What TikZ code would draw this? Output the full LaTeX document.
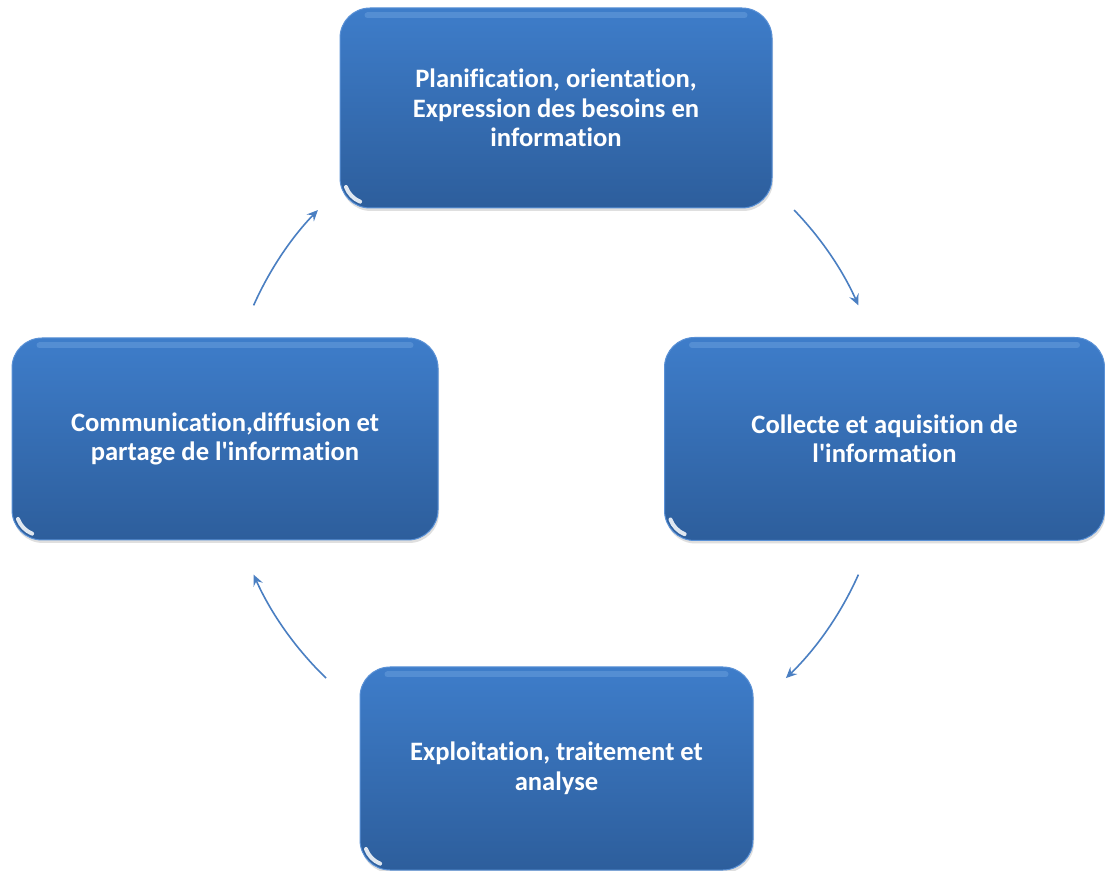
\documentclass[tikz,border=0pt]{standalone}
\usepackage{fontspec}
\setmainfont{Carlito}[Ligatures={NoCommon}]
\usetikzlibrary{arrows.meta,shadows,calc}
\definecolor{boxtop}{HTML}{3E7DCA}
\definecolor{boxbot}{HTML}{2D5E9C}
\definecolor{boxedge}{HTML}{5A91D6}
\definecolor{boxhigh}{HTML}{7FB0E8}
\definecolor{arrowblue}{HTML}{4A7FC2}
\tikzset{
  stagebox/.style={rectangle, rounded corners=30pt, top color=boxtop, bottom color=boxbot,
    draw=boxedge, line width=1pt, text=white, align=center,
    font=\fontsize{26.6}{29.5}\selectfont\bfseries,
    drop shadow={opacity=0.25, shadow xshift=1pt, shadow yshift=-3pt}},
  cyclearrow/.style={draw=arrowblue, line width=1.6pt,
    -{Stealth[length=11pt,width=10pt,inset=4pt]}},
  glint/.style={draw=white, line width=4pt, line cap=round, opacity=0.85},
  highlight/.style={draw=boxhigh, line width=6pt, line cap=round, opacity=0.35}
}
% gloss on a stage box: light band under the top edge and a glint in the lower left corner
\newcommand{\gloss}[1]{%
  \draw[highlight] ($(#1.north west)+(28,-8)$) -- ($(#1.north east)+(-28,-8)$);
  \draw[glint] ($(#1.south west)+(30,30)+(200:25)$) arc[start angle=200,end angle=248,radius=25];
}
\begin{document}
\begin{tikzpicture}[x=1pt,y=1pt]
\useasboundingbox[fill=white] (0,0) rectangle (1105,870);

\node[stagebox, minimum width=432pt, minimum height=200pt] (plan) at (556,762)
  {Planification, orientation,\\Expression des besoins en\\information};
\node[stagebox, minimum width=440pt, minimum height=203pt] (collect) at (884.5,431)
  {Collecte et aquisition de\\l\textquotesingle information};
\node[stagebox, minimum width=393pt, minimum height=203pt] (exploit) at (556.5,101.5)
  {Exploitation, traitement et\\analyse};
\node[stagebox, minimum width=426pt, minimum height=202pt] (comm) at (225,431)
  {Communication,diffusion et\\partage de l\textquotesingle information};

\gloss{plan}
\gloss{collect}
\gloss{exploit}
\gloss{comm}

% cycle arrows on a circle around the middle of the figure
\coordinate (hub) at (556,430);
\coordinate (a1) at ($(hub)+(44:331)$);
\coordinate (a2) at ($(hub)+(-24:331)$);
\coordinate (a3) at ($(hub)+(-134:331)$);
\coordinate (a4) at ($(hub)+(156:331)$);
\draw[cyclearrow] (a1) arc[start angle=44,end angle=24,radius=331];
\draw[cyclearrow] (a2) arc[start angle=-24,end angle=-46,radius=331];
\draw[cyclearrow] (a3) arc[start angle=-134,end angle=-156,radius=331];
\draw[cyclearrow] (a4) arc[start angle=156,end angle=136,radius=331];
\end{tikzpicture}
\end{document}
